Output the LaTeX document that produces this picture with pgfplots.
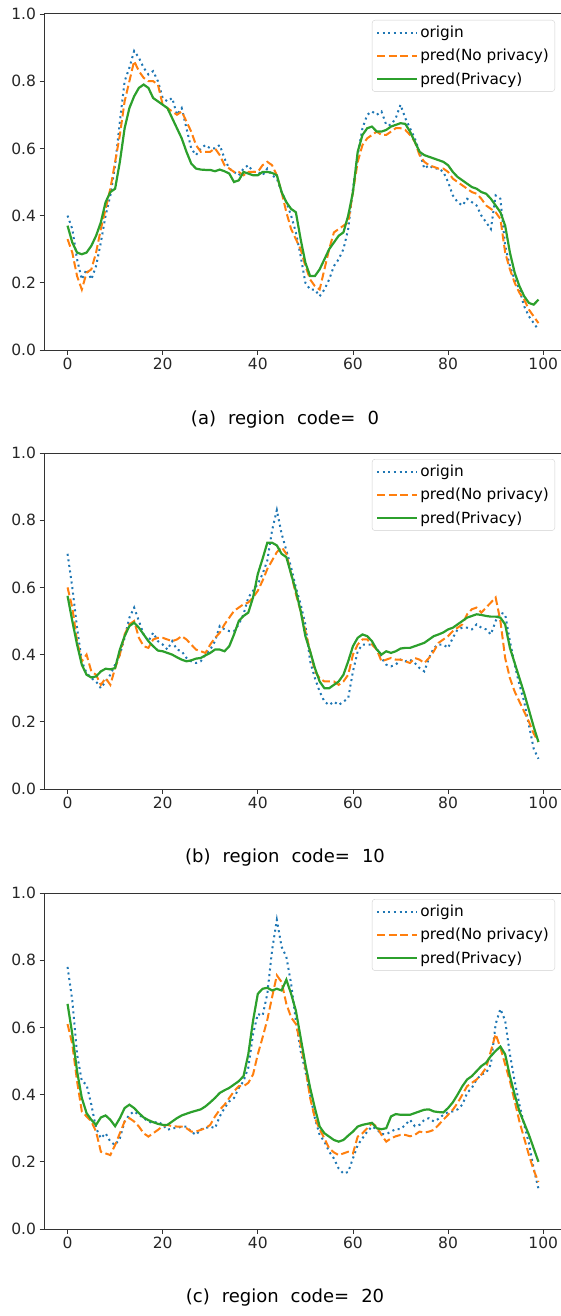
\documentclass[border=0pt]{standalone}
\usepackage{fontspec}
\setmainfont{DejaVu Sans}
\usepackage{pgfplots}
\usepackage{pgfplotstable}
\pgfplotsset{compat=1.18}

\definecolor{tabblue}{HTML}{1F77B4}
\definecolor{taborange}{HTML}{FF7F0E}
\definecolor{tabgreen}{HTML}{2CA02C}

% x origin(dotted) pred-no-privacy(dashed) pred-privacy(solid)
\pgfplotstableread{
x o n p
0 0.40 0.33 0.37
1 0.36 0.29 0.32
2 0.27 0.22 0.29
3 0.21 0.18 0.285
4 0.24 0.23 0.29
5 0.21 0.24 0.31
6 0.25 0.29 0.34
7 0.32 0.36 0.38
8 0.40 0.42 0.44
9 0.46 0.48 0.47
10 0.55 0.56 0.48
11 0.68 0.64 0.56
12 0.80 0.74 0.66
13 0.84 0.80 0.72
14 0.89 0.86 0.755
15 0.87 0.83 0.78
16 0.84 0.81 0.79
17 0.82 0.80 0.78
18 0.83 0.80 0.75
19 0.80 0.79 0.74
20 0.75 0.73 0.73
21 0.74 0.72 0.72
22 0.75 0.71 0.69
23 0.70 0.70 0.66
24 0.72 0.71 0.63
25 0.66 0.68 0.59
26 0.60 0.65 0.555
27 0.58 0.61 0.54
28 0.60 0.59 0.537
29 0.61 0.59 0.536
30 0.60 0.59 0.536
31 0.60 0.60 0.532
32 0.61 0.58 0.537
33 0.57 0.55 0.532
34 0.54 0.54 0.525
35 0.53 0.53 0.50
36 0.52 0.53 0.505
37 0.54 0.52 0.53
38 0.55 0.53 0.525
39 0.53 0.53 0.52
40 0.53 0.53 0.52
41 0.52 0.55 0.53
42 0.54 0.56 0.53
43 0.52 0.55 0.527
44 0.51 0.52 0.52
45 0.47 0.47 0.47
46 0.44 0.41 0.44
47 0.40 0.36 0.42
48 0.35 0.33 0.41
49 0.28 0.30 0.33
50 0.20 0.25 0.26
51 0.18 0.21 0.22
52 0.18 0.19 0.22
53 0.16 0.18 0.24
54 0.18 0.24 0.27
55 0.21 0.30 0.30
56 0.25 0.35 0.32
57 0.27 0.36 0.34
58 0.30 0.37 0.35
59 0.36 0.38 0.40
60 0.48 0.47 0.47
61 0.58 0.56 0.59
62 0.66 0.61 0.64
63 0.70 0.63 0.66
64 0.71 0.64 0.665
65 0.70 0.65 0.65
66 0.71 0.64 0.65
67 0.67 0.64 0.655
68 0.67 0.65 0.665
69 0.69 0.66 0.67
70 0.73 0.66 0.675
71 0.69 0.655 0.673
72 0.66 0.64 0.65
73 0.63 0.62 0.62
74 0.59 0.58 0.59
75 0.54 0.56 0.58
76 0.55 0.55 0.575
77 0.54 0.545 0.57
78 0.54 0.54 0.565
79 0.53 0.54 0.56
80 0.50 0.53 0.55
81 0.46 0.51 0.53
82 0.44 0.50 0.515
83 0.43 0.49 0.505
84 0.45 0.48 0.495
85 0.44 0.47 0.485
86 0.43 0.465 0.48
87 0.40 0.45 0.47
88 0.38 0.43 0.465
89 0.36 0.42 0.45
90 0.46 0.41 0.43
91 0.45 0.39 0.41
92 0.31 0.29 0.37
93 0.25 0.24 0.29
94 0.21 0.20 0.23
95 0.18 0.17 0.19
96 0.13 0.15 0.16
97 0.10 0.12 0.14
98 0.08 0.10 0.135
99 0.06 0.08 0.15
}\regionA

\pgfplotstableread{
x o n p
0 0.70 0.60 0.575
1 0.60 0.54 0.50
2 0.48 0.44 0.43
3 0.38 0.38 0.37
4 0.345 0.40 0.34
5 0.33 0.35 0.332
6 0.32 0.34 0.335
7 0.30 0.31 0.35
8 0.32 0.33 0.358
9 0.34 0.31 0.356
10 0.37 0.36 0.36
11 0.40 0.40 0.415
12 0.45 0.46 0.455
13 0.51 0.49 0.485
14 0.54 0.50 0.495
15 0.50 0.45 0.48
16 0.46 0.425 0.46
17 0.44 0.42 0.44
18 0.465 0.445 0.425
19 0.44 0.45 0.412
20 0.43 0.45 0.41
21 0.415 0.445 0.405
22 0.44 0.44 0.40
23 0.415 0.445 0.392
24 0.41 0.455 0.385
25 0.39 0.445 0.38
26 0.38 0.43 0.383
27 0.375 0.415 0.388
28 0.38 0.41 0.39
29 0.40 0.405 0.398
30 0.415 0.43 0.405
31 0.44 0.45 0.415
32 0.485 0.465 0.415
33 0.475 0.49 0.41
34 0.47 0.51 0.425
35 0.47 0.53 0.46
36 0.49 0.54 0.50
37 0.52 0.55 0.515
38 0.57 0.555 0.525
39 0.59 0.57 0.57
40 0.61 0.59 0.64
41 0.64 0.62 0.685
42 0.68 0.655 0.733
43 0.77 0.68 0.733
44 0.83 0.705 0.725
45 0.76 0.72 0.70
46 0.71 0.70 0.69
47 0.66 0.64 0.64
48 0.60 0.58 0.59
49 0.55 0.53 0.53
50 0.49 0.47 0.455
51 0.38 0.41 0.41
52 0.33 0.35 0.36
53 0.29 0.33 0.32
54 0.26 0.32 0.30
55 0.25 0.32 0.30
56 0.26 0.32 0.31
57 0.25 0.31 0.32
58 0.26 0.32 0.34
59 0.27 0.34 0.38
60 0.35 0.40 0.425
61 0.41 0.43 0.45
62 0.43 0.445 0.46
63 0.43 0.445 0.455
64 0.43 0.43 0.44
65 0.42 0.415 0.415
66 0.39 0.38 0.40
67 0.37 0.385 0.41
68 0.365 0.39 0.405
69 0.37 0.385 0.41
70 0.385 0.385 0.418
71 0.38 0.38 0.42
72 0.385 0.375 0.42
73 0.375 0.39 0.425
74 0.36 0.385 0.43
75 0.35 0.375 0.435
76 0.39 0.39 0.445
77 0.42 0.41 0.455
78 0.43 0.435 0.46
79 0.43 0.445 0.466
80 0.42 0.455 0.475
81 0.45 0.47 0.48
82 0.475 0.48 0.49
83 0.48 0.49 0.50
84 0.48 0.52 0.51
85 0.475 0.535 0.515
86 0.49 0.54 0.52
87 0.48 0.525 0.518
88 0.475 0.54 0.515
89 0.46 0.555 0.513
90 0.50 0.57 0.513
91 0.525 0.50 0.51
92 0.52 0.39 0.49
93 0.44 0.33 0.42
94 0.37 0.29 0.375
95 0.31 0.26 0.33
96 0.26 0.23 0.285
97 0.19 0.20 0.235
98 0.12 0.165 0.185
99 0.09 0.14 0.14
}\regionB

\pgfplotstableread{
x o n p
0 0.78 0.61 0.67
1 0.68 0.55 0.58
2 0.52 0.44 0.47
3 0.44 0.35 0.39
4 0.43 0.335 0.345
5 0.37 0.32 0.325
6 0.30 0.29 0.31
7 0.27 0.23 0.332
8 0.285 0.225 0.338
9 0.26 0.22 0.325
10 0.25 0.25 0.306
11 0.27 0.285 0.33
12 0.32 0.32 0.36
13 0.34 0.33 0.37
14 0.35 0.32 0.36
15 0.34 0.305 0.345
16 0.33 0.285 0.332
17 0.32 0.275 0.324
18 0.315 0.285 0.318
19 0.32 0.295 0.313
20 0.31 0.306 0.31
21 0.295 0.31 0.31
22 0.30 0.306 0.32
23 0.30 0.305 0.33
24 0.305 0.305 0.338
25 0.305 0.30 0.343
26 0.29 0.29 0.348
27 0.28 0.29 0.352
28 0.297 0.295 0.356
29 0.30 0.30 0.365
30 0.305 0.31 0.377
31 0.30 0.335 0.39
32 0.335 0.355 0.405
33 0.36 0.37 0.413
34 0.38 0.39 0.42
35 0.39 0.41 0.43
36 0.42 0.425 0.44
37 0.44 0.425 0.455
38 0.48 0.435 0.52
39 0.58 0.46 0.62
40 0.64 0.52 0.70
41 0.635 0.57 0.715
42 0.70 0.623 0.718
43 0.83 0.69 0.71
44 0.92 0.755 0.715
45 0.84 0.735 0.71
46 0.81 0.67 0.742
47 0.73 0.63 0.70
48 0.62 0.61 0.65
49 0.53 0.55 0.57
50 0.47 0.48 0.49
51 0.40 0.39 0.42
52 0.33 0.33 0.36
53 0.28 0.297 0.305
54 0.26 0.27 0.285
55 0.23 0.24 0.275
56 0.21 0.228 0.265
57 0.18 0.22 0.26
58 0.165 0.225 0.265
59 0.17 0.23 0.278
60 0.21 0.225 0.29
61 0.25 0.275 0.305
62 0.27 0.285 0.31
63 0.29 0.30 0.313
64 0.305 0.315 0.316
65 0.297 0.305 0.30
66 0.283 0.28 0.297
67 0.282 0.26 0.30
68 0.29 0.27 0.335
69 0.297 0.276 0.342
70 0.297 0.28 0.34
71 0.31 0.28 0.34
72 0.325 0.276 0.34
73 0.306 0.28 0.345
74 0.31 0.29 0.35
75 0.325 0.287 0.355
76 0.33 0.29 0.356
77 0.32 0.295 0.35
78 0.328 0.31 0.348
79 0.34 0.325 0.347
80 0.348 0.34 0.36
81 0.35 0.355 0.377
82 0.356 0.375 0.40
83 0.37 0.40 0.425
84 0.405 0.425 0.445
85 0.42 0.435 0.455
86 0.445 0.445 0.47
87 0.46 0.46 0.485
88 0.465 0.48 0.495
89 0.49 0.53 0.515
90 0.61 0.58 0.53
91 0.655 0.54 0.543
92 0.62 0.49 0.52
93 0.52 0.44 0.455
94 0.44 0.38 0.40
95 0.37 0.32 0.35
96 0.31 0.27 0.315
97 0.255 0.22 0.28
98 0.18 0.175 0.24
99 0.12 0.14 0.20
}\regionC

\newcommand\legfont{\fontsize{15.3}{17}\selectfont}
\newcommand\capfont{\fontsize{18}{21}\selectfont}

\pgfplotsset{
  panel/.style={
    anchor=north west,
    scale only axis,
    width=518pt, height=336pt,
    xmin=-4.95, xmax=103.95,
    ymin=0, ymax=1,
    xtick={0,20,...,100},
    ytick={0,0.2,...,1.0},
    yticklabel style={/pgf/number format/.cd, fixed, fixed zerofill, precision=1},
    /pgf/number format/assume math mode=true,
    tick label style={font=\fontsize{15.5}{18}\selectfont, text=black!85},
    tick align=outside,
    tick pos=left,
    major tick length=4.5pt,
    every tick/.style={black!80, line width=0.8pt},
    axis line style={black!80, line width=1pt},
    legend cell align=left,
    legend style={
      at={(1,1)}, anchor=north east, xshift=-7pt, yshift=-6pt,
      font=\legfont, nodes={font=\legfont},
      draw=black!18, rounded corners=3pt,
      fill=white, fill opacity=0.8, text opacity=1,
      row sep=6pt, inner xsep=4pt, inner ysep=4pt,
    },
    legend image code/.code={
      \draw[#1] (0pt,0pt) -- (32pt,0pt);
      \path (0pt,0pt) -- (40pt,0pt);
    },
  },
  origin/.style={tabblue, line width=2pt, dash pattern=on 2pt off 3.6pt},
  nopriv/.style={taborange, line width=2pt, dash pattern=on 8pt off 3.6pt},
  priv/.style={tabgreen, line width=2.2pt},
}

\begin{document}
\begin{tikzpicture}
\path[use as bounding box] (0pt,0pt) rectangle (560pt,-1316pt);

\begin{axis}[panel, at={(44pt,-14pt)}]
\addplot[origin] table[x=x, y=o] {\regionA};
\addlegendentry{origin}
\addplot[nopriv] table[x=x, y=n] {\regionA};
\addlegendentry{pred(No privacy)}
\addplot[priv] table[x=x, y=p] {\regionA};
\addlegendentry{pred(Privacy)}
\draw[black!80, line width=1pt] (rel axis cs:0,1) -- (rel axis cs:1,1);
\end{axis}
\node[font=\capfont] at (285pt,-420pt) {(a)\hspace{0.35em} region\hspace{0.35em} code=\hspace{0.35em} 0};

\begin{axis}[panel, at={(44pt,-453pt)}]
\addplot[origin] table[x=x, y=o] {\regionB};
\addlegendentry{origin}
\addplot[nopriv] table[x=x, y=n] {\regionB};
\addlegendentry{pred(No privacy)}
\addplot[priv] table[x=x, y=p] {\regionB};
\addlegendentry{pred(Privacy)}
\draw[black!80, line width=1pt] (rel axis cs:0,1) -- (rel axis cs:1,1);
\end{axis}
\node[font=\capfont] at (285pt,-858pt) {(b)\hspace{0.35em} region\hspace{0.35em} code=\hspace{0.35em} 10};

\begin{axis}[panel, at={(44pt,-893pt)}]
\addplot[origin] table[x=x, y=o] {\regionC};
\addlegendentry{origin}
\addplot[nopriv] table[x=x, y=n] {\regionC};
\addlegendentry{pred(No privacy)}
\addplot[priv] table[x=x, y=p] {\regionC};
\addlegendentry{pred(Privacy)}
\draw[black!80, line width=1pt] (rel axis cs:0,1) -- (rel axis cs:1,1);
\end{axis}
\node[font=\capfont] at (285pt,-1298pt) {(c)\hspace{0.35em} region\hspace{0.35em} code=\hspace{0.35em} 20};
\end{tikzpicture}
\end{document}
